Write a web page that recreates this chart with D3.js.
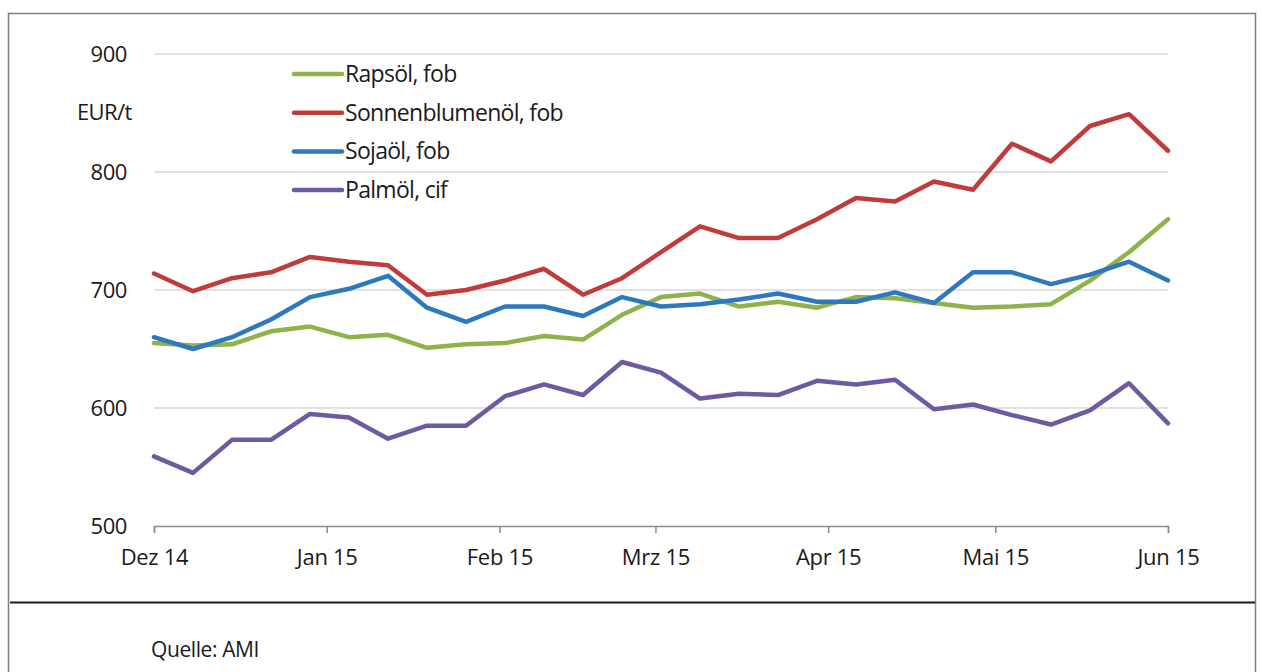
<!DOCTYPE html>
<html lang="de">
<head>
<meta charset="utf-8">
<script src="https://cdn.jsdelivr.net/npm/d3@7"></script>
<style>
  html, body { margin: 0; padding: 0; background: #fff; }
  svg { display: block; font-family: "Open Sans", "Noto Sans", sans-serif; }
</style>
</head>
<body>
<svg id="chart" width="1262" height="672"></svg>
<script>
// Weekly notations, Dec 2014 – Jun 2015 (EUR/t)
const weeks = [
  "2014-12-01", "2014-12-08", "2014-12-15", "2014-12-22", "2014-12-29",
  "2015-01-05", "2015-01-12", "2015-01-19", "2015-01-26",
  "2015-02-02", "2015-02-09", "2015-02-16", "2015-02-23",
  "2015-03-02", "2015-03-09", "2015-03-16", "2015-03-23", "2015-03-30",
  "2015-04-06", "2015-04-13", "2015-04-20", "2015-04-27",
  "2015-05-04", "2015-05-11", "2015-05-18", "2015-05-25", "2015-06-01"
];

const rapsoel = [655, 653, 654, 665, 669, 660, 662, 651, 654, 655, 661, 658, 679, 694, 697, 686, 690, 685, 694, 693, 689, 685, 686, 688, 708, 732, 760];
const sonnenblumenoel = [714, 699, 710, 715, 728, 724, 721, 696, 700, 708, 718, 696, 710, 732, 754, 744, 744, 760, 778, 775, 792, 785, 824, 809, 839, 849, 818];
const sojaoel = [660, 650, 660, 675, 694, 701, 712, 685, 673, 686, 686, 678, 694, 686, 688, 692, 697, 690, 690, 698, 689, 715, 715, 705, 713, 724, 708];
const palmoel = [559, 545, 573, 573, 595, 592, 574, 585, 585, 610, 620, 611, 639, 630, 608, 612, 611, 623, 620, 624, 599, 603, 594, 586, 598, 621, 587];

const seriesNames = ["Rapsöl, fob", "Sonnenblumenöl, fob", "Sojaöl, fob", "Palmöl, cif"];
const seriesColors = ["#8db34a", "#c23b3b", "#2e78c0", "#6d5aa0"];

const monthStarts = ["2014-12-01", "2015-01-01", "2015-02-01", "2015-03-01", "2015-04-01", "2015-05-01", "2015-06-01"];
const monthLabels = ["Dez 14", "Jan 15", "Feb 15", "Mrz 15", "Apr 15", "Mai 15", "Jun 15"];
const yTicks = [500, 600, 700, 800, 900];
const unitLabel = "EUR/t";
const sourceLabel = "Quelle: AMI";

const parse = d3.utcParse("%Y-%m-%d");
const dates = weeks.map(parse);
const monthDates = monthStarts.map(parse);

const svg = d3.select("#chart");

const plot = { left: 154, right: 1168, top: 54, bottom: 526 };
const ink = "#1a1a1a";

const x = d3.scaleUtc()
  .domain([monthDates[0], monthDates[monthDates.length - 1]])
  .range([plot.left, plot.right]);

const y = d3.scaleLinear()
  .domain([500, 900])
  .range([plot.bottom, plot.top]);

// Outer frame and footer divider
svg.append("rect")
  .attr("x", 8.5).attr("y", 13.5)
  .attr("width", 1247).attr("height", 700)
  .attr("fill", "none")
  .attr("stroke", "#808080")
  .attr("stroke-width", 1.5);

svg.append("line")
  .attr("x1", 10).attr("x2", 1255)
  .attr("y1", 602.5).attr("y2", 602.5)
  .attr("stroke", ink)
  .attr("stroke-width", 2);

// Horizontal gridlines
svg.append("g")
  .selectAll("line")
  .data(yTicks.filter(v => v > 500))
  .join("line")
  .attr("x1", plot.left).attr("x2", plot.right)
  .attr("y1", d => y(d)).attr("y2", d => y(d))
  .attr("stroke", "#d9d9d9")
  .attr("stroke-width", 1.5);

// Y axis labels
const yAxis = svg.append("g")
  .attr("transform", `translate(${plot.left - 27},0)`)
  .call(d3.axisLeft(y).tickValues(yTicks).tickSize(0).tickPadding(0).tickFormat(d3.format("d")));
yAxis.select(".domain").remove();
yAxis.selectAll("text")
  .attr("font-family", "'Open Sans', sans-serif")
  .attr("font-size", 22)
  .attr("letter-spacing", "-0.4")
  .attr("fill", ink);

svg.append("text")
  .attr("x", 77).attr("y", 112)
  .attr("dy", "0.35em")
  .attr("font-size", 22)
  .attr("letter-spacing", "-0.6")
  .attr("fill", ink)
  .text(unitLabel);

// X axis
const xAxis = svg.append("g")
  .attr("transform", `translate(0,${plot.bottom})`)
  .call(d3.axisBottom(x)
    .tickValues(monthDates)
    .tickSize(7)
    .tickPadding(16)
    .tickFormat((d, i) => monthLabels[i]));
xAxis.select(".domain")
  .attr("stroke", "#8c8c8c")
  .attr("stroke-width", 1.5);
xAxis.selectAll(".tick line")
  .attr("stroke", "#8c8c8c")
  .attr("stroke-width", 1.5);
xAxis.selectAll("text")
  .attr("font-family", "'Open Sans', sans-serif")
  .attr("font-size", 22)
  .attr("letter-spacing", "-0.3")
  .attr("fill", ink);

// Series lines
const allSeries = [rapsoel, sonnenblumenoel, sojaoel, palmoel];
const line = d3.line()
  .x((d, i) => x(dates[i]))
  .y(d => y(d));

svg.append("g")
  .selectAll("path")
  .data(allSeries)
  .join("path")
  .attr("d", line)
  .attr("fill", "none")
  .attr("stroke", (d, i) => seriesColors[i])
  .attr("stroke-width", 4.5)
  .attr("stroke-linejoin", "round")
  .attr("stroke-linecap", "round");

// Legend
const legend = svg.append("g");
const legendRows = legend.selectAll("g")
  .data(seriesNames)
  .join("g")
  .attr("transform", (d, i) => `translate(294,${74 + i * 38.7})`);
legendRows.append("line")
  .attr("x1", 0).attr("x2", 48)
  .attr("stroke", (d, i) => seriesColors[i])
  .attr("stroke-width", 4.5)
  .attr("stroke-linecap", "round");
legendRows.append("text")
  .attr("x", 51)
  .attr("dy", "0.35em")
  .attr("font-size", 23)
  .attr("letter-spacing", "-0.7")
  .attr("fill", ink)
  .text(d => d);

// Source note
svg.append("text")
  .attr("x", 151).attr("y", 650)
  .attr("dy", "0.35em")
  .attr("font-size", 21)
  .attr("letter-spacing", "-0.4")
  .attr("fill", ink)
  .text(sourceLabel);
</script>
</body>
</html>
